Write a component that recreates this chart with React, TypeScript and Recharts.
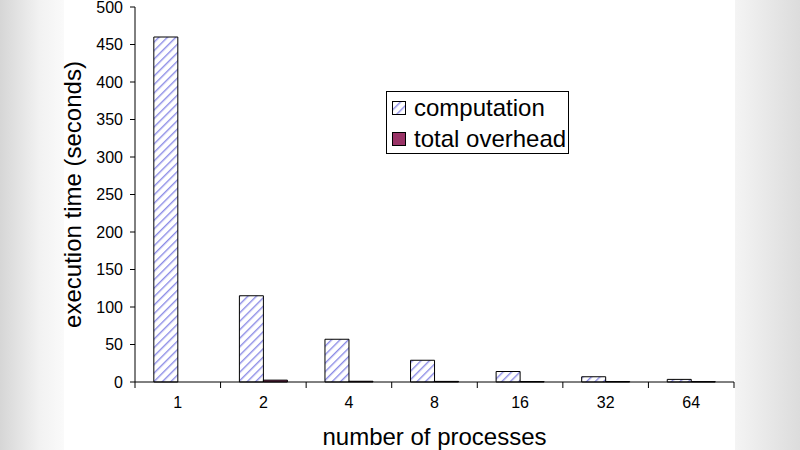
import { Bar, BarChart, Label, XAxis, YAxis } from 'recharts'

const processes = ['1', '2', '4', '8', '16', '32', '64']
const computation = [460, 115, 57, 29, 14, 7, 3.5]
const totalOverhead = [0, 2.5, 1, 0.8, 0.6, 0.6, 0.5]
const yTicks = [0, 50, 100, 150, 200, 250, 300, 350, 400, 450, 500]

const rows = processes.map((p, i) => ({
  p,
  computation: computation[i],
  overhead: totalOverhead[i],
}))

const FONT = 'Arial, "Liberation Sans", sans-serif'
const HATCH = '#8c8ce6'
const OVERHEAD = '#993366'
const TICK_GAP = 15

// category tick: label in the middle, tick mark on the category edges (Excel style)
function EdgeTick(props: any) {
  const { x, y, payload, index } = props
  const half = typeof payload?.offset === 'number' && payload.offset > 0 ? payload.offset : 599 / 14
  const axisY = y - TICK_GAP
  return (
    <g>
      <line x1={x - half} y1={axisY} x2={x - half} y2={axisY + 6} stroke="#000" />
      {index === processes.length - 1 ? (
        <line x1={x + half} y1={axisY} x2={x + half} y2={axisY + 6} stroke="#000" />
      ) : null}
      <text x={x} y={y} dy="0.71em" textAnchor="middle" fill="#000" fontSize={16} fontFamily={FONT}>
        {payload.value}
      </text>
    </g>
  )
}

function LegendBox() {
  const item = { display: 'flex', alignItems: 'center', height: 31 } as const
  return (
    <div
      style={{
        position: 'absolute',
        left: 386,
        top: 91,
        border: '1px solid #000',
        background: '#fff',
        width: 183,
        height: 63,
        padding: '0 0 0 5px',
        boxSizing: 'border-box',
        fontFamily: FONT,
        fontSize: 24,
        color: '#000',
        lineHeight: 1,
      }}
    >
      <div style={item}>
        <svg width={14} height={14} style={{ marginRight: 8 }}>
          <rect x={0.5} y={0.5} width={13} height={13} fill="url(#hatch)" stroke="#000" />
        </svg>
        computation
      </div>
      <div style={item}>
        <svg width={14} height={14} style={{ marginRight: 8 }}>
          <rect x={0.5} y={0.5} width={13} height={13} fill={OVERHEAD} stroke="#000" />
        </svg>
        total overhead
      </div>
    </div>
  )
}

export default function App() {
  return (
    <div
      style={{
        position: 'absolute',
        left: 0,
        top: 0,
        width: 800,
        height: 450,
        background:
          'linear-gradient(to right, #d6d6d6 0px, #f2f2f2 40px, #fafafa 64px, #fff 64px, #fff 735px, #f4f4f4 735px, #dcdcdc 800px)',
      }}
    >
      <svg width={0} height={0} style={{ position: 'absolute' }}>
        <defs>
          <pattern id="hatch" width={6} height={6} patternUnits="userSpaceOnUse" patternTransform="rotate(45)">
            <rect width={6} height={6} fill="#fff" />
            <line x1={0} y1={0} x2={0} y2={6} stroke={HATCH} strokeWidth={2.8} />
          </pattern>
        </defs>
      </svg>
      <div style={{ position: 'absolute', left: 64, top: 0, width: 671, height: 450, background: '#fff' }} />
      <div style={{ position: 'absolute', left: 0, top: 0 }}>
        <BarChart
          width={800}
          height={450}
          data={rows}
          margin={{ top: 7, right: 66, bottom: 0, left: 55 }}
          barCategoryGap="22%"
          barGap={0}
        >
          <XAxis
            dataKey="p"
            height={68}
            stroke="#000"
            tickLine={false}
            tickSize={0}
            tickMargin={TICK_GAP}
            interval={0}
            tick={<EdgeTick />}
          >
            <Label
              value="number of processes"
              position="insideBottom"
              offset={5}
              style={{ fill: '#000', fontSize: 24, fontFamily: FONT }}
            />
          </XAxis>
          <XAxis xAxisId="top" orientation="top" height={0} tick={false} tickLine={false} stroke="#888" />
          <YAxis
            domain={[0, 500]}
            ticks={yTicks}
            width={80}
            tickSize={5}
            tickMargin={7}
            stroke="#000"
            interval={0}
            tick={{ fill: '#000', fontSize: 16, fontFamily: FONT }}
          >
            <Label
              value="execution time (seconds)"
              angle={-90}
              position="insideLeft"
              offset={17}
              style={{ textAnchor: 'middle', fill: '#000', fontSize: 24, fontFamily: FONT }}
            />
          </YAxis>
          <YAxis yAxisId="right" orientation="right" width={0} tick={false} tickLine={false} stroke="#888" />
          <Bar
            dataKey="computation"
            name="computation"
            fill="url(#hatch)"
            stroke="#000"
            strokeWidth={1}
            isAnimationActive={false}
          />
          <Bar
            dataKey="overhead"
            name="total overhead"
            fill={OVERHEAD}
            stroke="#000"
            strokeWidth={1}
            isAnimationActive={false}
          />
        </BarChart>
      </div>
      <LegendBox />
    </div>
  )
}
